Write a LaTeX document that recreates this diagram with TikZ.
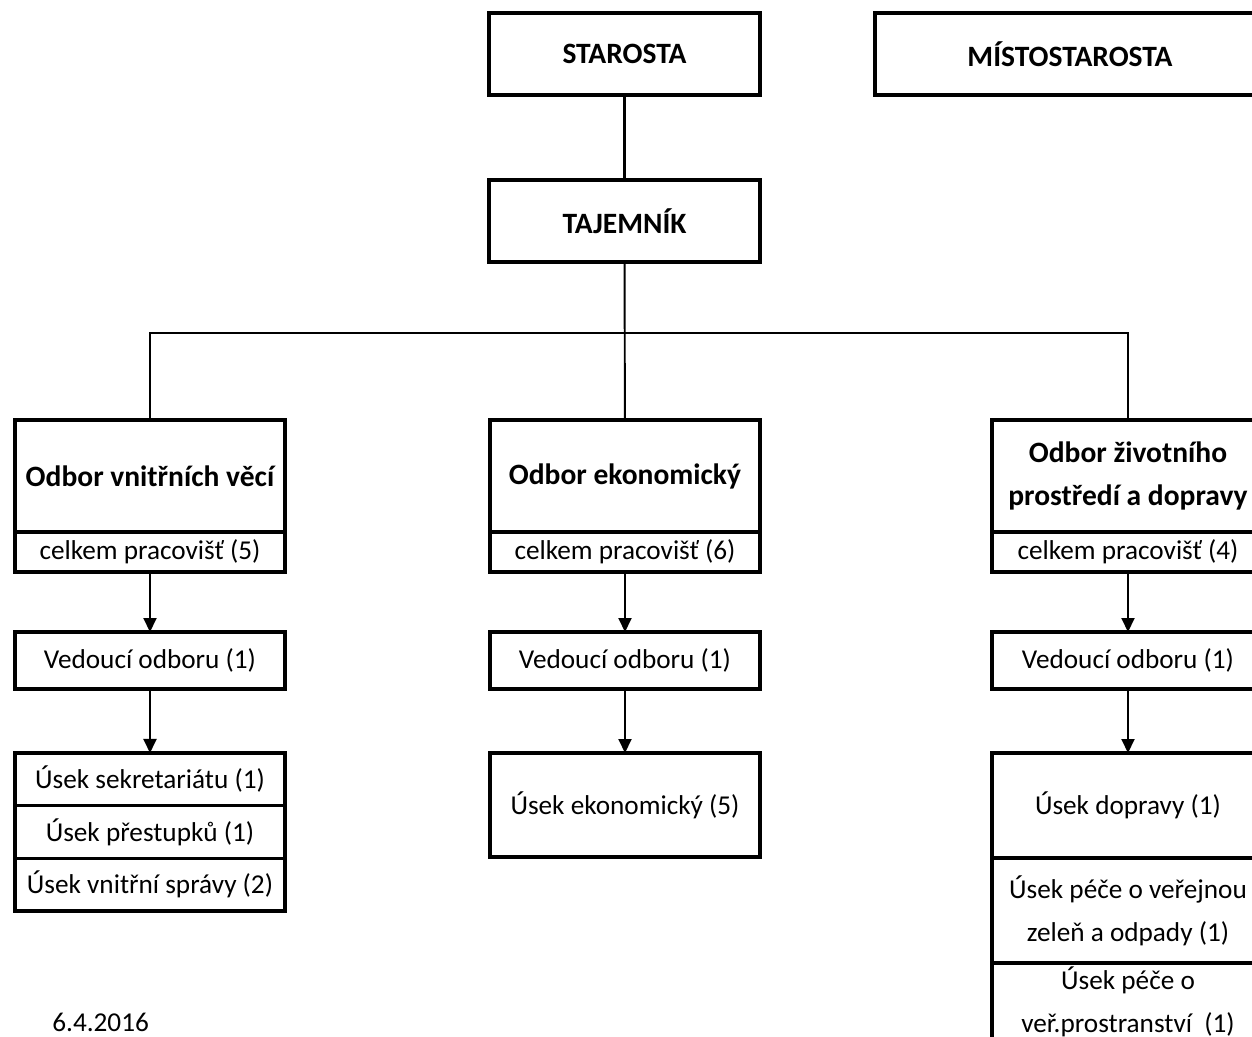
\documentclass[tikz,border=0pt]{standalone}
\usepackage{fontspec}
\setmainfont{Carlito}
\usetikzlibrary{arrows.meta}

\tikzset{
  box/.style={draw, line width=1.9pt, inner sep=0pt, outer sep=0pt, align=center,
    font=\fontsize{15.5}{24.5}\selectfont},
  headbox/.style={box, font=\fontsize{16.8}{25}\selectfont\bfseries},
  link/.style={line width=1.1pt},
  arr/.style={line width=1.1pt, -{Triangle[length=0.28cm,width=0.26cm]}},
}

\begin{document}
\begin{tikzpicture}[x=0.02cm, y=-0.02cm]
\useasboundingbox (0,0) rectangle (1252,1037);
% vedeni
\node[headbox, minimum width=5.42cm, minimum height=1.64cm] (starosta) at (624.5,54) {STAROSTA};
\node[headbox, minimum width=7.8cm, minimum height=1.64cm] (misto) at (1070,54) {MÍSTOSTAROSTA};
\node[headbox, minimum width=5.42cm, minimum height=1.64cm] (tajemnik) at (624.5,221) {TAJEMNÍK};
% odbory
\node[headbox, minimum width=5.4cm, minimum height=2.24cm] (vnitr) at (150,476) {Odbor vnitřních věcí};
\node[box, minimum width=5.4cm, minimum height=0.8cm] (vnitrpoc) at (150,552) {celkem pracovišť (5)};
\node[headbox, minimum width=5.4cm, minimum height=2.24cm] (ekon) at (625,476) {Odbor ekonomický};
\node[box, minimum width=5.4cm, minimum height=0.8cm] (ekonpoc) at (625,552) {celkem pracovišť (6)};
\node[headbox, minimum width=5.44cm, minimum height=2.24cm] (zivot) at (1128,476) {Odbor životního\\prostředí a dopravy};
\node[box, minimum width=5.44cm, minimum height=0.8cm] (zivotpoc) at (1128,552) {celkem pracovišť (4)};
% vedouci
\node[box, minimum width=5.4cm, minimum height=1.14cm] (vnitrved) at (150,660.5) {Vedoucí odboru (1)};
\node[box, minimum width=5.4cm, minimum height=1.14cm] (ekonved) at (625,660.5) {Vedoucí odboru (1)};
\node[box, minimum width=5.44cm, minimum height=1.14cm] (zivotved) at (1128,660.5) {Vedoucí odboru (1)};
% useky
\node[box, minimum width=5.4cm, minimum height=1.053cm] (sekret) at (150,779.3) {Úsek sekretariátu (1)};
\node[box, minimum width=5.4cm, minimum height=1.053cm] (prestup) at (150,832) {Úsek přestupků (1)};
\node[box, minimum width=5.4cm, minimum height=1.053cm] (sprava) at (150,884.7) {Úsek vnitřní správy (2)};
\node[box, minimum width=5.4cm, minimum height=2.08cm] (ekonusek) at (625,805) {Úsek ekonomický (5)};
\node[box, minimum width=5.44cm, minimum height=2.1cm] (doprava) at (1128,805.5) {Úsek dopravy (1)};
\node[box, minimum width=5.44cm, minimum height=2.1cm] (zelen) at (1128,910.5) {Úsek péče o veřejnou\\zeleň a odpady (1)};
\node[box, minimum width=5.44cm, minimum height=1.56cm] (prostor) at (1128,1002) {Úsek péče o\\veř.prostranství~ (1)};
\node[anchor=base west, font=\fontsize{15.5}{24.5}\selectfont, inner sep=0pt] (datum) at (52,1031) {6.4.2016};
% spoje
\coordinate (rozvod) at (625,333);
\draw[line width=1.9pt] (starosta) -- (tajemnik);
\draw[link] (tajemnik) -- (ekon);
\draw[link] (vnitr.north) |- (rozvod) -| (zivot.north);
\draw[arr] (vnitrpoc) -- (vnitrved);
\draw[arr] (vnitrved) -- (sekret);
\draw[arr] (ekonpoc) -- (ekonved);
\draw[arr] (ekonved) -- (ekonusek);
\draw[arr] (zivotpoc) -- (zivotved);
\draw[arr] (zivotved) -- (doprava);
\end{tikzpicture}
\end{document}
